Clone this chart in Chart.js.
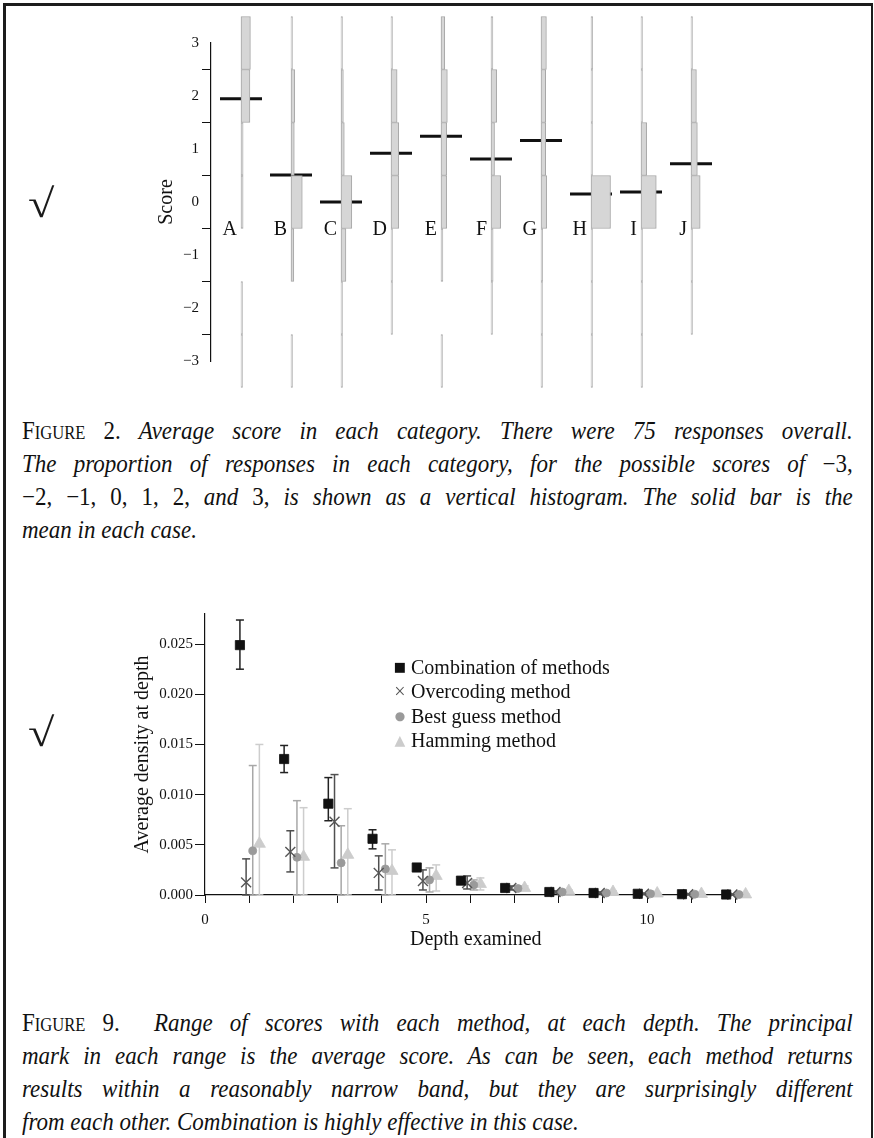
<!DOCTYPE html>
<html>
<head>
<meta charset="utf-8">
<script src="https://cdn.jsdelivr.net/npm/chart.js@4/dist/chart.umd.min.js"></script>
<style>
  html, body { margin: 0; padding: 0; background: #fff; }
  body { width: 874px; height: 1138px; position: relative; overflow: hidden;
         font-family: "Liberation Serif", "Times New Roman", serif; color: #111; }
  .frame { position: absolute; left: 3px; top: 3px; width: 870px; height: 1135px; box-sizing: border-box;
           border-top: 3px solid #1c1c1c; border-left: 3px solid #1c1c1c; border-right: 2px solid #1c1c1c; }
  canvas { position: absolute; left: 0; }
  .tick { position: absolute; left: 28px; font-family: "Liberation Serif", serif;
          font-size: 40px; line-height: 40px; color: #1a1a1a; transform: scaleX(1.2); transform-origin: 0 0; }
  .cap { position: absolute; left: 22px; width: 903px; font-size: 25px; line-height: 33px;
         transform: scaleX(0.92); transform-origin: 0 0; }
  .cap div { text-align: justify; text-align-last: justify; }
  .cap div.last { text-align: left; text-align-last: left; }
  .sc { font-variant: small-caps; }
  #legend { position: absolute; left: 0; top: 655px; font-size: 20px; line-height: 24.4px; }
  #legend .row { position: relative; height: 24.4px; }
  #legend .mk { position: absolute; left: 392px; width: 16px; text-align: center; font-family: "DejaVu Sans", sans-serif; }
  #legend .lb { position: absolute; left: 411px; white-space: nowrap; }
</style>
</head>
<body>
<div class="frame"></div>

<canvas id="scoreChart" width="874" height="400" style="top:0"></canvas>
<div class="tick" style="top:184px">√</div>

<div class="cap" style="top:414px">
  <div><span class="sc">Figure</span> 2. <i>Average score in each category. There were 75 responses overall.</i></div>
  <div><i>The proportion of responses in each category, for the possible scores of</i> −3,</div>
  <div>−2, −1, 0, 1, 2, <i>and</i> 3, <i>is shown as a vertical histogram. The solid bar is the</i></div>
  <div class="last"><i>mean in each case.</i></div>
</div>

<canvas id="depthChart" width="874" height="400" style="top:560px"></canvas>
<div class="tick" style="top:713px">√</div>
<div id="legend"></div>

<div class="cap" style="top:1006px">
  <div><span class="sc">Figure</span> 9. &nbsp;<i>Range of scores with each method, at each depth. The principal</i></div>
  <div><i>mark in each range is the average score. As can be seen, each method returns</i></div>
  <div><i>results within a reasonably narrow band, but they are surprisingly different</i></div>
  <div class="last"><i>from each other. Combination is highly effective in this case.</i></div>
</div>

<script>
// ---- Figure 2 data ----
const categories = ['A', 'B', 'C', 'D', 'E', 'F', 'G', 'H', 'I', 'J'];
const scores = [-3, -2, -1, 0, 1, 2, 3];
// share of responses at each score (-3 .. 3), one row per category
const shares = [
  [0.02, 0.02, 0.00, 0.09, 0.09, 0.38, 0.40], // A
  [0.03, 0.00, 0.12, 0.48, 0.14, 0.16, 0.06], // B
  [0.03, 0.03, 0.21, 0.46, 0.14, 0.10, 0.03], // C
  [0.00, 0.03, 0.03, 0.33, 0.33, 0.26, 0.03], // D
  [0.03, 0.00, 0.08, 0.24, 0.24, 0.27, 0.16], // E
  [0.00, 0.03, 0.09, 0.41, 0.15, 0.24, 0.08], // F
  [0.03, 0.03, 0.07, 0.24, 0.20, 0.20, 0.23], // G
  [0.02, 0.02, 0.02, 0.83, 0.02, 0.02, 0.07], // H
  [0.02, 0.02, 0.03, 0.65, 0.24, 0.02, 0.02], // I
  [0.00, 0.03, 0.06, 0.39, 0.27, 0.23, 0.03]  // J
];
const means = [1.95, 0.51, 0.0, 0.92, 1.24, 0.81, 1.16, 0.15, 0.19, 0.72];
const scoreTicks = [-3, -2, -1, 0, 1, 2, 3];

// ---- Figure 9 data ----
const depths = [1, 2, 3, 4, 5, 6, 7, 8, 9, 10, 11, 12];
const seriesNames = ['Combination of methods', 'Overcoding method', 'Best guess method', 'Hamming method'];
const combMean = [0.0249, 0.01355, 0.0091, 0.0056, 0.00274, 0.00143, 0.0007, 0.0003, 0.0002, 0.00012, 0.00008, 0.00005];
const combLow  = [0.0225, 0.0122, 0.0074, 0.0046, 0.0024, 0.0012, 0.0006, 0.00025, 0.00015, 0.0001, 0.00006, 0.00004];
const combHigh = [0.0274, 0.0149, 0.0117, 0.0065, 0.0031, 0.0016, 0.0008, 0.00035, 0.00025, 0.00014, 0.0001, 0.00006];
const overMean = [0.00126, 0.0043, 0.0073, 0.0022, 0.0014, 0.0012, 0.0007, 0.0003, 0.0002, 0.00012, 0.00008, 0.00005];
const overLow  = [0.0, 0.0023, 0.0027, 0.0005, 0.0005, 0.0006, 0.0005, 0.0002, 0.00012, 0.00008, 0.00005, 0.00003];
const overHigh = [0.0036, 0.0064, 0.0120, 0.0039, 0.0025, 0.0019, 0.0009, 0.0004, 0.0003, 0.00016, 0.0001, 0.00007];
const bestMean = [0.0044, 0.00375, 0.0032, 0.0026, 0.0015, 0.0010, 0.00065, 0.0003, 0.0002, 0.00012, 0.00008, 0.00005];
const bestLow  = [0.0, 0.0, 0.0, 0.0, 0.0003, 0.0005, 0.0004, 0.0002, 0.0001, 0.00008, 0.00005, 0.00003];
const bestHigh = [0.0129, 0.0094, 0.0069, 0.0051, 0.0027, 0.0015, 0.0009, 0.0004, 0.0003, 0.00016, 0.0001, 0.00007];
const hammMean = [0.0051, 0.0038, 0.0040, 0.0024, 0.0019, 0.0011, 0.0007, 0.0004, 0.0003, 0.00015, 0.0001, 0.00006];
const hammLow  = [0.0, 0.0, 0.0, 0.0, 0.0004, 0.0005, 0.0005, 0.0003, 0.0002, 0.0001, 0.00007, 0.00004];
const hammHigh = [0.0150, 0.0087, 0.0086, 0.0045, 0.0030, 0.0017, 0.0009, 0.0005, 0.0004, 0.0002, 0.00013, 0.00008];
const depthTicks = [0, 5, 10];
const densityTicks = [0, 0.005, 0.01, 0.015, 0.02, 0.025];

Chart.defaults.font.family = '"Liberation Serif", "Times New Roman", serif';
Chart.defaults.color = '#111';

const serif = (size) => ({ family: '"Liberation Serif", "Times New Roman", serif', size: size });

// ---------- Figure 2 ----------
const shareWidth = 0.47; // x units for a share of 1
const meanHalf = 0.42;

const histBars = [];
categories.forEach((c, i) => {
  shares[i].forEach((p, j) => {
    if (p > 0) histBars.push({ y: scores[j], x: [i + 1, i + 1 + p * shareWidth] });
  });
});

const meanLines = categories.map((c, i) => ({
  type: 'line',
  data: [{ x: i + 1 - meanHalf, y: means[i] }, { x: i + 1 + meanHalf, y: means[i] }],
  borderColor: '#111',
  borderWidth: 3,
  pointRadius: 0,
  clip: false
}));

const letterPlugin = {
  id: 'categoryLetters',
  afterDatasetsDraw(chart) {
    const { ctx, scales } = chart;
    ctx.save();
    ctx.font = '20px "Liberation Serif", serif';
    ctx.fillStyle = '#111';
    ctx.textAlign = 'right';
    ctx.textBaseline = 'middle';
    categories.forEach((c, i) => {
      ctx.fillText(c, scales.x.getPixelForValue(i + 1) - 4, scales.y.getPixelForValue(-0.52));
    });
    ctx.restore();
  }
};

new Chart(document.getElementById('scoreChart'), {
  type: 'bar',
  data: {
    datasets: [
      {
        type: 'bar',
        indexAxis: 'y',
        data: histBars,
        backgroundColor: '#d6d6d6',
        borderColor: '#a6a6a6',
        borderWidth: 1,
        borderSkipped: false,
        barPercentage: 1,
        categoryPercentage: 1,
        minBarLength: 1.5,
        clip: false
      },
      ...meanLines
    ]
  },
  options: {
    responsive: false,
    animation: false,
    events: [],
    layout: { padding: { left: 151, right: 133, top: 43, bottom: 39 } },
    plugins: { legend: { display: false }, tooltip: { enabled: false } },
    scales: {
      x: { type: 'linear', display: false, min: 0.4, max: 11, offset: false },
      y: {
        type: 'linear', min: -3, max: 3, offset: false,
        afterFit: (s) => { s.width = 60; },
        afterBuildTicks: (s) => { s.ticks = scoreTicks.map(v => ({ value: v })); },
        ticks: {
          padding: 3,
          font: serif(15),
          color: '#111',
          callback: (v) => (v < 0 ? '\u2212' + Math.abs(v) : String(v))
        },
        grid: { drawOnChartArea: false, tickLength: 9, color: '#111', lineWidth: 1 },
        border: { display: true, color: '#111', width: 1.2 },
        title: { display: true, text: 'Score', font: serif(20), color: '#111', padding: { top: 4, bottom: 4 } }
      }
    }
  },
  plugins: [letterPlugin]
});

// ---------- Figure 9 ----------
const offsets = [-0.21, -0.07, 0.08, 0.23];
const meanSets = [combMean, overMean, bestMean, hammMean];
const lowSets = [combLow, overLow, bestLow, hammLow];
const highSets = [combHigh, overHigh, bestHigh, hammHigh];
const markerStyles = ['rect', 'crossRot', 'circle', 'triangle'];
const markerRadius = [6.5, 7, 4, 7];
const markerColors = ['#111111', '#555555', '#9a9a9a', '#cccccc'];
const barColors = ['#222222', '#505050', '#a8a8a8', '#cdcdcd'];

const markerSets = seriesNames.map((name, s) => ({
  type: 'scatter',
  label: name,
  data: depths.map((d, k) => ({ x: d + offsets[s], y: meanSets[s][k] })),
  pointStyle: markerStyles[s],
  pointRadius: markerRadius[s],
  backgroundColor: markerColors[s],
  borderColor: markerColors[s],
  borderWidth: s === 1 ? 1.4 : 0.8,
  clip: false
}));

const errorSets = seriesNames.map((name, s) => ({
  type: 'line',
  data: depths.flatMap((d, k) => [
    { x: d + offsets[s], y: lowSets[s][k] },
    { x: d + offsets[s], y: highSets[s][k] },
    { x: d + offsets[s], y: null }
  ]),
  borderColor: barColors[s],
  borderWidth: 1.5,
  pointStyle: 'line',
  pointRadius: 4,
  pointBorderWidth: 1.5,
  pointBorderColor: barColors[s],
  spanGaps: false,
  clip: false
}));

new Chart(document.getElementById('depthChart'), {
  type: 'scatter',
  data: { datasets: [...markerSets, ...errorSets] },
  options: {
    responsive: false,
    animation: false,
    events: [],
    layout: { padding: { left: 127, right: 127.5, top: 54, bottom: 4 } },
    plugins: { legend: { display: false }, tooltip: { enabled: false } },
    scales: {
      x: {
        type: 'linear', min: 0, max: 12.25,
        afterFit: (s) => { s.height = 61; },
        ticks: {
          stepSize: 1, includeBounds: false, padding: 8, font: serif(15), color: '#111',
          callback: (v) => (depthTicks.includes(v) ? String(v) : '')
        },
        grid: { drawOnChartArea: false, tickLength: 8, color: '#111', lineWidth: 1 },
        border: { display: true, color: '#111', width: 1.2 },
        title: { display: true, text: 'Depth examined', font: serif(20), color: '#111', padding: { top: 4, bottom: 4 } }
      },
      y: {
        type: 'linear', min: 0, max: 0.028,
        afterFit: (s) => { s.width = 78; },
        afterBuildTicks: (s) => { s.ticks = densityTicks.map(v => ({ value: v })); },
        ticks: { padding: 2, font: serif(15), color: '#111', callback: (v) => v.toFixed(3) },
        grid: { drawOnChartArea: false, tickLength: 10, color: '#111', lineWidth: 1 },
        border: { display: true, color: '#111', width: 1.2 },
        title: { display: true, text: 'Average density at depth', font: serif(20), color: '#111', padding: { top: 4, bottom: 4 } }
      }
    }
  }
});

// legend as text, built from the series names
const legendGlyphs = ['■', '×', '●', '▲'];
const glyphSizes = ['13px', '20px', '12px', '14px'];
const legend = document.getElementById('legend');
seriesNames.forEach((name, s) => {
  const row = document.createElement('div');
  row.className = 'row';
  const mk = document.createElement('span');
  mk.className = 'mk';
  mk.textContent = legendGlyphs[s];
  mk.style.color = markerColors[s];
  mk.style.fontSize = glyphSizes[s];
  if (s === 1) mk.style.fontFamily = '"Liberation Serif", serif';
  const lb = document.createElement('span');
  lb.className = 'lb';
  lb.textContent = name;
  row.appendChild(mk);
  row.appendChild(lb);
  legend.appendChild(row);
});
</script>
</body>
</html>
